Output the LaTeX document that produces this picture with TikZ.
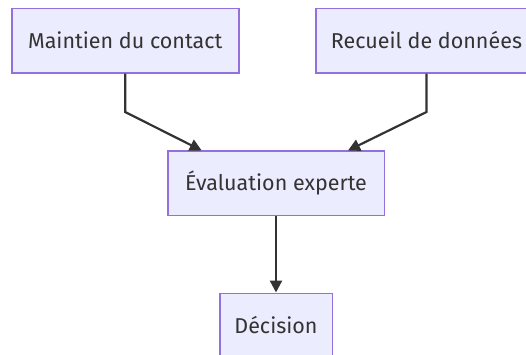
\documentclass[tikz,border=0pt]{standalone}
\usepackage{fontspec}
\setmainfont{Fira Sans}
\usetikzlibrary{arrows.meta}
\definecolor{boxfill}{HTML}{ECECFF}
\definecolor{boxline}{HTML}{9370DB}
\definecolor{ink}{HTML}{333333}
\begin{document}
\begin{tikzpicture}[x=1pt,y=-1pt,
  box/.style={draw=boxline,fill=boxfill,line width=1.6pt,text=ink,font=\fontsize{21.5}{26}\selectfont,inner sep=0pt,anchor=center},
  conn/.style={draw=ink,line width=2.2pt,-{Triangle[length=12pt,width=12pt]}}]
\useasboundingbox (0,0) rectangle (526,354);
\begin{scope}
\clip (0,0) rectangle (526,354);
\node[box,minimum width=227pt,minimum height=64.4pt] (a) at (125.2,40.5) {Maintien du contact};
\node[box,minimum width=221pt,minimum height=64.4pt] (b) at (426.5,40.5) {Recueil de données};
\node[box,minimum width=216.6pt,minimum height=64.4pt] (c) at (276,183.2) {Évaluation experte};
\node[box,minimum width=112.6pt,minimum height=64.4pt] (d) at (276,325.5) {Décision};
\coordinate (ab) at (125.2,112);
\coordinate (bb) at (426.5,112);
\coordinate (ac) at (201.7,150.5);
\coordinate (bc) at (348,150.5);
\draw[conn] (a.south) -- (ab) -- (ac);
\draw[conn] (b.south) -- (bb) -- (bc);
\draw[conn] (c.south) -- (d.north);
\end{scope}
\end{tikzpicture}
\end{document}
